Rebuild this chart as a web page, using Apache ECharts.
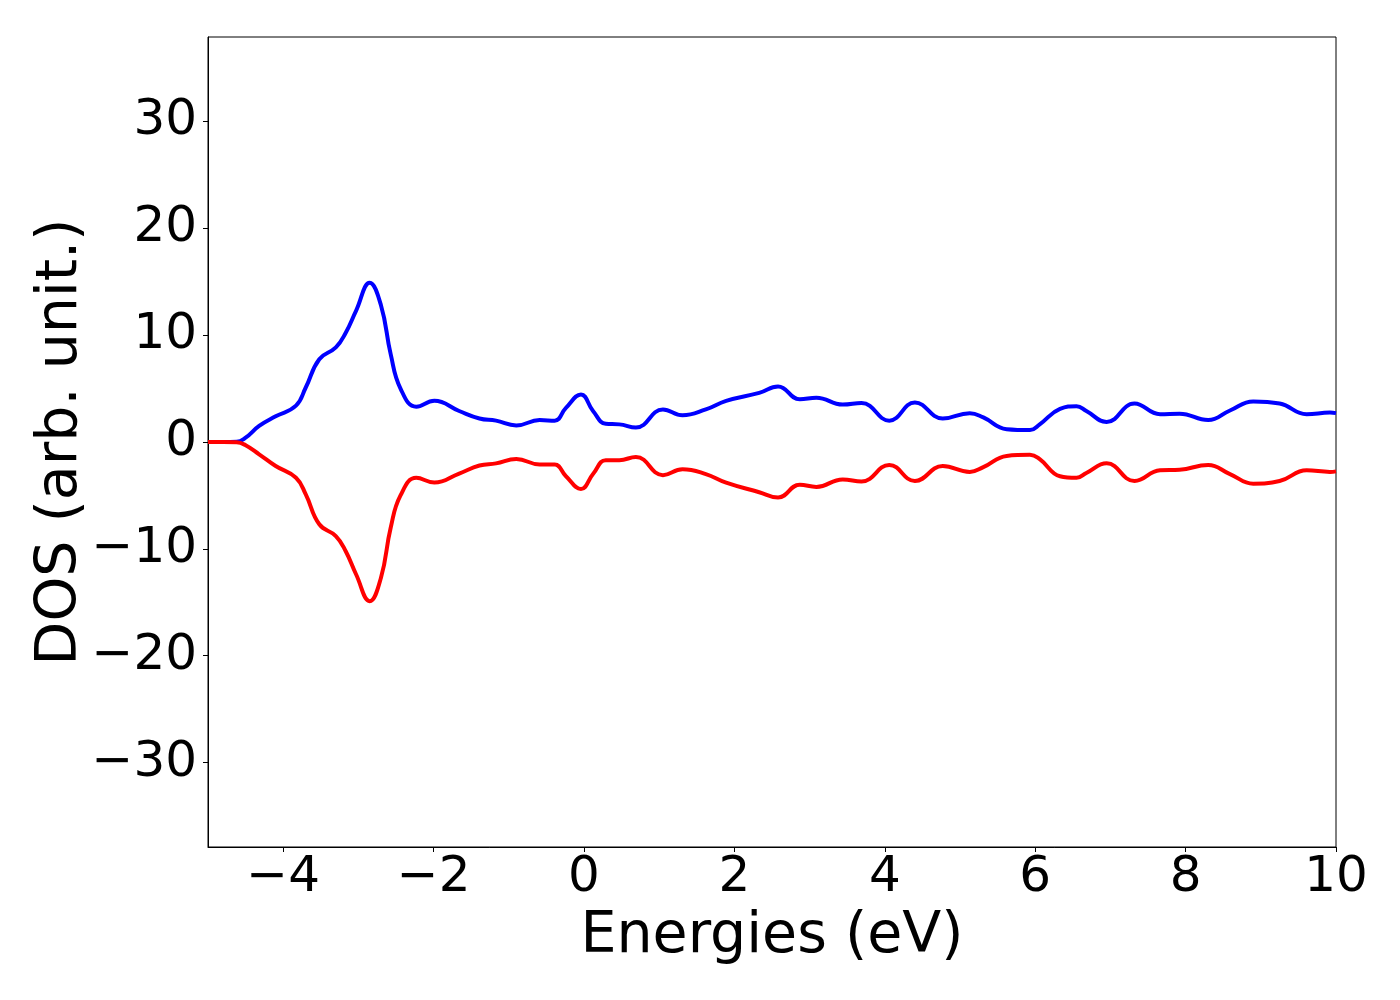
<!DOCTYPE html>
<html>
<head>
<meta charset="utf-8">
<script src="https://cdn.jsdelivr.net/npm/echarts@6/dist/echarts.min.js"></script>
<style>
  html, body { margin: 0; padding: 0; background: #fff; }
  #chart { width: 1400px; height: 1000px; }
</style>
</head>
<body>
<div id="chart"></div>
<script>
const energies = [-5.0, -4.8, -4.62, -4.50, -4.32, -4.10, -3.83, -3.70, -3.52, -3.30, -3.17, -3.03,
  -2.85, -2.70, -2.57, -2.44, -2.23, -1.99, -1.66, -1.39, -1.17, -0.90, -0.59, -0.39, -0.24, -0.04,
  0.12, 0.29, 0.47, 0.69, 1.05, 1.31, 1.62, 1.89, 2.33, 2.58, 2.87, 3.09, 3.44, 3.69, 4.06, 4.40,
  4.77, 5.13, 5.31, 5.62, 5.93, 6.06, 6.33, 6.55, 6.68, 6.95, 7.32, 7.66, 7.92, 8.30, 8.59, 8.90,
  9.25, 9.61, 9.92, 10.0];

// spin up (blue)
const dosUp = [0, 0, 0.02, 0.4, 1.5, 2.4, 3.4, 5.1, 7.75, 8.85, 10.2, 12.3,
  14.9, 12.8, 8.2, 5.0, 3.3, 3.85, 2.9, 2.2, 2.0, 1.55, 2.05, 2.0, 3.2, 4.45,
  2.9, 1.7, 1.65, 1.35, 3.05, 2.5, 3.05, 3.85, 4.6, 5.2, 4.0, 4.15, 3.5, 3.65, 2.0, 3.7,
  2.2, 2.7, 2.3, 1.2, 1.12, 1.65, 3.1, 3.35, 2.9, 1.87, 3.6, 2.6, 2.65, 2.05, 2.95, 3.8,
  3.6, 2.6, 2.75, 2.7];

// spin down (red)
const dosDown = [0, 0, -0.02, -0.3, -1.15, -2.25, -3.35, -4.9, -7.7, -8.8, -10.2, -12.4,
  -14.9, -12.7, -8.0, -5.0, -3.35, -3.8, -2.95, -2.2, -2.0, -1.6, -2.1, -2.1, -3.2, -4.4,
  -3.0, -1.7, -1.7, -1.4, -3.1, -2.55, -3.0, -3.8, -4.7, -5.2, -4.0, -4.2, -3.5, -3.7, -2.15, -3.65,
  -2.25, -2.8, -2.35, -1.3, -1.2, -1.6, -3.2, -3.35, -2.9, -2.0, -3.65, -2.65, -2.6, -2.15, -3.0, -3.9,
  -3.65, -2.65, -2.8, -2.75];

const xTicks = [-4, -2, 0, 2, 4, 6, 8, 10];
const yTicks = [-30, -20, -10, 0, 10, 20, 30];

const font = 'DejaVu Sans';
const minus = v => String(v).replace('-', '\u2212');

const chart = echarts.init(document.getElementById('chart'), null, { renderer: 'canvas' });

chart.setOption({
  backgroundColor: '#ffffff',
  animation: false,
  grid: {
    left: 208, right: 64, top: 37, bottom: 153,
    show: true, borderColor: '#000', borderWidth: 1, backgroundColor: 'transparent'
  },
  xAxis: {
    type: 'value',
    min: -5, max: 10, interval: 1,
    name: 'Energies (eV)',
    nameLocation: 'middle',
    nameGap: 62,
    nameMoveOverlap: false,
    nameTextStyle: { fontFamily: font, fontSize: 57, color: '#000' },
    axisLine: { show: true, onZero: false, lineStyle: { color: '#000', width: 1 } },
    axisTick: { show: true, customValues: xTicks, length: 5, inside: false, lineStyle: { color: '#000', width: 1 } },
    axisLabel: { customValues: xTicks, margin: 6, fontFamily: font, fontSize: 50, color: '#000', formatter: minus },
    splitLine: { show: false }
  },
  yAxis: {
    type: 'value',
    min: -37.9, max: 37.9,
    name: 'DOS (arb. unit.)',
    nameLocation: 'middle',
    nameGap: 118,
    nameMoveOverlap: false,
    nameTextStyle: { fontFamily: font, fontSize: 57, color: '#000' },
    axisLine: { show: true, onZero: false, lineStyle: { color: '#000', width: 1 } },
    axisTick: { show: true, customValues: yTicks, length: 5, inside: false, lineStyle: { color: '#000', width: 1 } },
    axisLabel: { customValues: yTicks, margin: 11, fontFamily: font, fontSize: 50, color: '#000', formatter: minus },
    splitLine: { show: false }
  },
  series: [
    {
      type: 'line',
      data: energies.map((e, i) => [e, dosUp[i]]),
      smooth: 0.45,
      showSymbol: false,
      lineStyle: { color: '#0000ff', width: 4 },
      clip: true
    },
    {
      type: 'line',
      data: energies.map((e, i) => [e, dosDown[i]]),
      smooth: 0.45,
      showSymbol: false,
      lineStyle: { color: '#ff0000', width: 4 },
      clip: true
    }
  ]
});
</script>
</body>
</html>
